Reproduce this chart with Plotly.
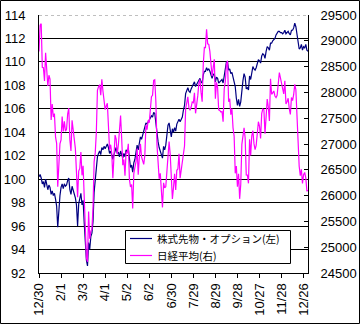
import plotly.graph_objects as go

# Trading days: last session of 2021 followed by every session of 2022
month_days = {
    1: [4, 5, 6, 7, 11, 12, 13, 14, 17, 18, 19, 20, 21, 24, 25, 26, 27, 28, 31],
    2: [1, 2, 3, 4, 7, 8, 9, 10, 14, 15, 16, 17, 18, 21, 22, 24, 25, 28],
    3: [1, 2, 3, 4, 7, 8, 9, 10, 11, 14, 15, 16, 17, 18, 22, 23, 24, 25, 28, 29, 30, 31],
    4: [1, 4, 5, 6, 7, 8, 11, 12, 13, 14, 15, 18, 19, 20, 21, 22, 25, 26, 27, 28],
    5: [2, 6, 9, 10, 11, 12, 13, 16, 17, 18, 19, 20, 23, 24, 25, 26, 27, 30, 31],
    6: [1, 2, 3, 6, 7, 8, 9, 10, 13, 14, 15, 16, 17, 20, 21, 22, 23, 24, 27, 28, 29, 30],
    7: [1, 4, 5, 6, 7, 8, 11, 12, 13, 14, 15, 19, 20, 21, 22, 25, 26, 27, 28, 29],
    8: [1, 2, 3, 4, 5, 8, 9, 10, 12, 15, 16, 17, 18, 19, 22, 23, 24, 25, 26, 29, 30, 31],
    9: [1, 2, 5, 6, 7, 8, 9, 12, 13, 14, 15, 16, 20, 21, 22, 26, 27, 28, 29, 30],
    10: [3, 4, 5, 6, 7, 11, 12, 13, 14, 17, 18, 19, 20, 21, 24, 25, 26, 27, 28, 31],
    11: [1, 2, 4, 7, 8, 9, 10, 11, 14, 15, 16, 17, 18, 21, 22, 24, 25, 28, 29, 30],
    12: [1, 2, 5, 6, 7, 8, 9, 12, 13, 14, 15, 16, 19, 20, 21, 22, 23, 26, 27, 28, 29, 30],
}
dates = ["2021-12-30"] + [f"2022-{m:02d}-{d:02d}" for m, days in month_days.items() for d in days]

# Fund index (left axis)
fund = [
    100.2,
    100.4, 100.1, 99.6, 99.8, 99.3, 100.0, 99.6, 99.1, 99.5, 99.3,
    98.7, 99.0, 98.6, 98.8, 98.3, 97.7, 95.9, 97.8, 98.6,
    99.3, 99.6, 99.2, 99.6, 99.4, 99.5, 99.9, 100.1, 99.1, 98.7,
    99.4, 99.1, 98.9, 98.4, 97.8, 96.0, 97.9, 98.5,
    98.8, 97.8, 98.2, 96.3, 94.3, 93.1, 92.6, 94.6, 94.0, 95.1,
    95.4, 96.4, 98.9, 100.2, 101.0, 101.9, 102.2, 102.4, 102.1, 102.7,
    102.5, 102.8,
    102.6, 102.9, 103.0, 102.7, 102.2, 102.4, 102.1, 101.7, 102.1, 102.5,
    102.7, 102.2, 102.3, 101.9, 102.4, 102.1, 101.8, 102.2, 101.9, 102.5,
    102.3, 102.6, 101.5, 101.0, 101.2, 100.6, 101.4, 101.7, 102.3, 102.9,
    102.5, 103.2, 103.6, 103.4, 103.8, 104.1, 104.4, 104.8, 104.7,
    104.9, 105.0, 105.2, 105.4, 105.3, 105.7, 105.6, 104.8, 103.6, 103.2,
    102.7, 102.4, 101.9, 101.8, 102.8, 102.5, 102.9, 103.6, 104.6, 104.8,
    104.2, 103.6,
    104.3, 104.0, 104.4, 104.1, 104.7, 104.9, 105.1, 104.9, 105.2, 105.3,
    105.9, 106.3, 107.3, 107.6, 107.8, 107.5, 107.4, 107.7, 107.9, 108.1,
    108.3, 107.9, 108.1, 108.3, 108.5, 108.6, 108.3, 108.2, 108.9, 109.2,
    109.2, 109.5, 109.3, 109.4, 109.2, 108.8, 108.6, 108.9, 109.0, 108.3,
    108.7, 108.6,
    108.2, 108.3, 108.4, 108.5, 108.2, 108.9, 109.3, 110.0, 110.0, 109.3,
    109.4, 109.0, 109.1, 108.7, 108.4, 107.9, 106.9, 106.3, 106.8, 106.2,
    106.6, 107.8, 108.4, 109.0, 108.7, 107.7, 107.8, 107.6, 108.8, 108.5,
    109.2, 109.6, 109.4, 109.3, 109.5, 109.9, 110.2, 110.1, 109.9, 110.5,
    110.7, 110.6, 110.3, 110.9, 111.3, 111.2, 111.0, 111.6, 111.6, 111.8,
    111.9, 112.0, 112.3, 112.5, 112.6, 112.6, 112.5, 112.5, 112.4, 112.5,
    112.7, 112.4, 112.5, 112.6, 112.4, 112.3, 112.7, 112.7, 112.9, 113.3,
    113.0, 112.4, 111.7, 111.1, 111.2, 111.5, 111.0, 111.3, 111.2, 111.5,
    111.0, 110.9,
]

# Nikkei 225 closing prices (right axis)
nikkei = [
    28791.71,
    29301.79, 29332.16, 28487.87, 28478.56, 28222.48, 28765.66, 28489.13, 28124.28, 28333.52, 28257.25,
    27467.23, 27772.93, 27522.26, 27588.37, 27131.34, 27011.33, 26170.30, 26717.34, 27001.98,
    27078.48, 27533.60, 27241.31, 27439.99, 27248.87, 27284.52, 27579.87, 27696.08, 27079.59, 26865.19,
    27460.40, 27232.87, 27122.07, 26910.87, 26449.61, 25970.82, 26476.50, 26526.82,
    26844.72, 26393.03, 26577.27, 25985.47, 25221.41, 24790.95, 24717.53, 25690.40, 25162.78, 25307.85,
    25346.48, 25762.01, 26652.89, 26827.43, 27224.11, 28040.16, 28110.39, 28149.84, 27943.89, 28252.42,
    28027.25, 27821.43,
    27665.98, 27736.47, 27787.98, 27350.30, 26888.57, 26985.80, 26821.52, 26334.98, 26843.49, 27172.00,
    27093.19, 26799.71, 26985.09, 27217.85, 27553.06, 27105.26, 26590.78, 26700.11, 26386.63, 26847.90,
    26818.53, 27003.56, 26319.34, 26167.10, 26213.64, 25748.72, 26427.65, 26547.05, 26659.75, 26911.20,
    26402.84, 26739.03, 27001.52, 26748.14, 26677.80, 26604.84, 26781.68, 27369.43, 27279.80,
    27457.89, 27413.88, 27761.57, 27915.89, 27943.95, 28234.29, 28246.53, 27824.29, 26987.44, 26629.86,
    26326.16, 26431.20, 25963.00, 25771.22, 26246.31, 26149.55, 26171.25, 26491.97, 26871.27, 27049.47,
    26804.60, 26393.04,
    25935.62, 26153.81, 26423.47, 26107.65, 26490.53, 26517.19, 26812.30, 26336.66, 26478.77, 26643.39,
    26788.47, 26961.68, 27680.26, 27803.00, 27914.66, 27699.25, 27655.21, 27715.75, 27815.48, 27801.64,
    27993.35, 27594.73, 27741.90, 27932.20, 28175.87, 28249.24, 27999.96, 27819.33, 28546.98, 28871.78,
    28868.91, 29222.77, 28942.14, 28930.33, 28794.50, 28452.75, 28313.47, 28479.01, 28641.38, 27878.96,
    28195.58, 28091.53,
    27661.47, 27650.84, 27619.61, 27626.51, 27430.30, 28065.28, 28214.75, 28542.11, 28614.63, 27818.62,
    27875.91, 27567.65, 27688.42, 27313.13, 27153.83, 26431.55, 26571.87, 26173.98, 26422.05, 25937.21,
    26215.79, 26992.21, 27120.53, 27311.30, 27116.11, 26401.25, 26396.83, 26237.42, 27090.76, 26775.79,
    27156.14, 27257.38, 27006.96, 26890.58, 26974.90, 27250.28, 27431.84, 27345.24, 27105.20, 27587.46,
    27678.92, 27663.39, 27199.74, 27527.64, 27872.11, 27716.43, 27446.10, 28263.57, 27963.47, 27990.17,
    28028.30, 27930.57, 27899.77, 27944.79, 28115.74, 28383.09, 28283.03, 28162.83, 28027.84, 27968.99,
    28226.08, 27777.90, 27820.40, 27885.87, 27686.40, 27574.43, 27901.01, 27842.33, 27954.85, 28156.21,
    28051.70, 27527.12, 27237.64, 26568.03, 26387.72, 26507.87, 26235.25, 26405.87, 26447.87, 26340.50,
    26093.67, 26094.50,
]

series_names = ["株式先物・オプション(左)", "日経平均(右)"]
series_colors = ["#000080", "#FF00FF"]

left_ticks = list(range(92, 115, 2))
right_ticks = list(range(24500, 29501, 500))
x_tickvals = dates[::20]
x_ticktext = [f"{int(s[5:7])}/{int(s[8:10])}" for s in x_tickvals]

W, H = 360, 324
L, R, T, B = 39, 52, 15, 51
pw, ph = W - L - R, H - T - B


def px_x(px):
    """Horizontal pixel -> paper coordinate."""
    return (px - L) / pw


def px_y(py):
    """Vertical pixel (from top) -> paper coordinate."""
    return (H - B - py) / ph


fig = go.Figure()
fig.add_trace(go.Scatter(
    x=dates, y=fund, name=series_names[0], mode="lines",
    line=dict(color=series_colors[0], width=1.2), showlegend=False,
))
fig.add_trace(go.Scatter(
    x=dates, y=nikkei, name=series_names[1], mode="lines", yaxis="y2",
    line=dict(color=series_colors[1], width=1.2), showlegend=False,
))

axis_font = dict(family="Liberation Sans, Arial, sans-serif", size=13, color="black")
legend_font = dict(family="Noto Sans CJK JP", size=10.5, color="black")

# Legend box drawn in the lower middle of the plot area
shapes = [
    dict(type="rect", xref="paper", yref="paper",
         x0=px_x(125.5), x1=px_x(290.5), y0=px_y(263.5), y1=px_y(230.5),
         line=dict(color="black", width=1), fillcolor="white", layer="above"),
]
annotations = []
for k, (name, color) in enumerate(zip(series_names, series_colors)):
    row_y = 238.5 + 17 * k
    shapes.append(dict(type="line", xref="paper", yref="paper",
                       x0=px_x(130), x1=px_x(152), y0=px_y(row_y), y1=px_y(row_y),
                       line=dict(color=color, width=1.2), layer="above"))
    annotations.append(dict(text=name, xref="paper", yref="paper",
                            x=px_x(155), y=px_y(row_y), xanchor="left", yanchor="middle",
                            showarrow=False, font=legend_font))

shapes += [
    # top edge of the plot area: light dotted line
    dict(type="line", xref="paper", yref="y", x0=0, x1=1, y0=114, y1=114,
         line=dict(color="white", width=1.5), layer="above"),
    dict(type="line", xref="paper", yref="y", x0=0, x1=1, y0=114, y1=114,
         line=dict(color="#808080", width=1, dash="dot"), layer="above"),
    # chart frame
    dict(type="rect", xref="paper", yref="paper",
         x0=px_x(0.5), x1=px_x(W - 0.5), y0=px_y(H - 0.5), y1=px_y(0.5),
         line=dict(color="black", width=1), fillcolor="rgba(0,0,0,0)"),
]

fig.update_layout(
    width=W, height=H,
    margin=dict(l=L, r=R, t=T, b=B, pad=0),
    paper_bgcolor="white", plot_bgcolor="white",
    showlegend=False,
    xaxis=dict(
        type="category", range=[0, len(dates) - 1], automargin=False,
        tickvals=x_tickvals, ticktext=x_ticktext, tickangle=-90,
        ticks="outside", ticklen=4, tickcolor="black",
        showline=True, linecolor="black", linewidth=1,
        showgrid=False, zeroline=False, tickfont=axis_font,
    ),
    yaxis=dict(
        range=[92, 114], tickvals=left_ticks, automargin=False,
        showgrid=True, gridcolor="black", gridwidth=1,
        showline=True, linecolor="black", linewidth=1,
        ticks="", zeroline=False, tickfont=axis_font, ticklabelstandoff=10,
    ),
    yaxis2=dict(
        range=[24500, 29500], tickvals=right_ticks, tickformat="d", automargin=False,
        overlaying="y", side="right",
        showgrid=False, showline=True, linecolor="black", linewidth=1,
        ticks="inside", ticklen=4, tickcolor="black",
        zeroline=False, tickfont=axis_font, ticklabelstandoff=9,
    ),
    shapes=shapes,
    annotations=annotations,
)

fig.write_html("out.html")
